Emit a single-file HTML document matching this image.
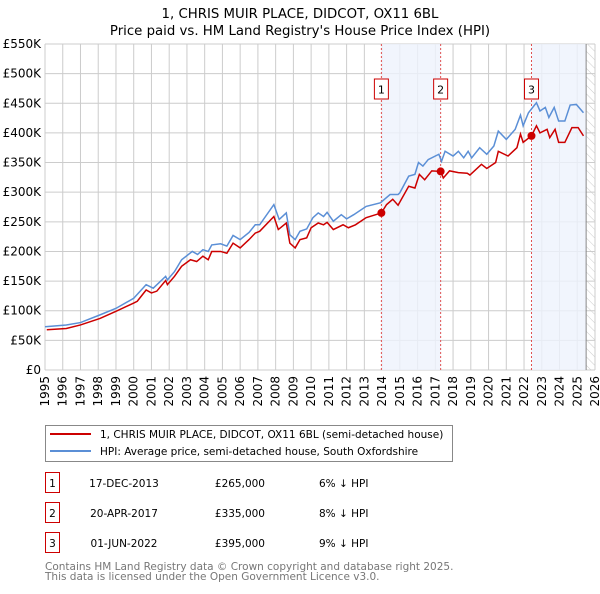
<!DOCTYPE html>
<html><head><meta charset="utf-8"><style>
body{margin:0;background:#fff;width:600px;height:590px;overflow:hidden;font-family:"DejaVu Sans","Liberation Sans",sans-serif}
svg text{font-family:"DejaVu Sans","Liberation Sans",sans-serif}
</style></head><body>
<svg id="chart" width="600" height="590" xmlns="http://www.w3.org/2000/svg">
<defs><pattern id="hatch" width="6" height="6" patternUnits="userSpaceOnUse" patternTransform="rotate(-45)"><line x1="0" y1="0" x2="0" y2="6" stroke="#ccc" stroke-width="1"/></pattern></defs>
<text x="300" y="18" text-anchor="middle" font-size="13.3">1, CHRIS MUIR PLACE, DIDCOT, OX11 6BL</text>
<text x="300" y="35" text-anchor="middle" font-size="13.3">Price paid vs. HM Land Registry's House Price Index (HPI)</text>
<g id="grid"></g><g id="shade"></g><g id="lines"></g><g id="axes"></g>
<g>
<rect x="45.5" y="425.5" width="407" height="36" fill="#fff" stroke="#888"/>
<line x1="50" y1="434" x2="91" y2="434" stroke="#cc0000" stroke-width="2"/>
<text x="100" y="438" font-size="10.5">1, CHRIS MUIR PLACE, DIDCOT, OX11 6BL (semi-detached house)</text>
<line x1="50" y1="451" x2="91" y2="451" stroke="#5b8fd6" stroke-width="2"/>
<text x="100" y="455" font-size="10.5">HPI: Average price, semi-detached house, South Oxfordshire</text>
</g>
<g id="table"></g>
<text x="45" y="570" font-size="10.5" fill="#777">Contains HM Land Registry data © Crown copyright and database right 2025.</text>
<text x="45" y="580" font-size="10.5" fill="#777">This data is licensed under the Open Government Licence v3.0.</text>
</svg>
<script>
const yTicks=[0,50,100,150,200,250,300,350,400,450,500,550];
const xYears=[1995,1996,1997,1998,1999,2000,2001,2002,2003,2004,2005,2006,2007,2008,2009,2010,2011,2012,2013,2014,2015,2016,2017,2018,2019,2020,2021,2022,2023,2024,2025,2026];
const hpiYears=[1995.0,1996.2,1997.0,1998.1,1999.0,2000.0,2000.7,2001.1,2001.8,2001.9,2002.3,2002.7,2003.3,2003.6,2003.9,2004.2,2004.4,2004.9,2005.25,2005.6,2006.0,2006.5,2006.85,2007.1,2007.9,2008.2,2008.6,2008.8,2009.1,2009.37,2009.75,2010.1,2010.4,2010.7,2010.9,2011.25,2011.7,2012.0,2012.4,2013.1,2013.9,2014.45,2014.9,2015.0,2015.5,2015.85,2016.05,2016.3,2016.6,2017.2,2017.35,2017.55,2018.0,2018.3,2018.6,2018.85,2019.05,2019.5,2019.9,2020.3,2020.55,2021.0,2021.5,2021.8,2021.95,2022.25,2022.7,2022.9,2023.2,2023.4,2023.7,2023.95,2024.3,2024.6,2024.95,2025.35];
const hpiValues=[73,76,80,93,104,121,144,138,158,152,166,186,200,195,203,200,211,213,209,227,220,232,245,245,279,254,265,228,220,234,238,257,265,259,266,251,262,255,262,276,282,296,296,299,327,330,350,344,355,364,352,369,361,369,358,369,358,375,364,378,403,389,406,430,412,434,451,437,443,426,443,420,420,447,448,434];
const priceYears=[1995.1,1996.2,1997.0,1998.1,1999.0,2000.0,2000.2,2000.7,2001.0,2001.3,2001.8,2001.9,2002.3,2002.7,2003.2,2003.55,2003.9,2004.2,2004.4,2004.9,2005.25,2005.6,2006.0,2006.5,2006.85,2007.1,2007.9,2008.15,2008.6,2008.8,2009.1,2009.37,2009.75,2010.0,2010.4,2010.7,2010.9,2011.25,2011.8,2012.1,2012.5,2013.1,2013.96,2014.25,2014.6,2014.9,2015.5,2015.85,2016.1,2016.4,2016.8,2017.3,2017.45,2017.8,2018.3,2018.8,2018.95,2019.6,2019.9,2020.4,2020.55,2021.1,2021.6,2021.8,2021.95,2022.42,2022.7,2022.9,2023.3,2023.45,2023.75,2023.95,2024.3,2024.7,2025.05,2025.35];
const priceValues=[68,70,76,87,99,113,116,135,130,133,151,144,158,175,186,183,192,186,200,200,197,214,206,220,231,234,259,237,248,214,206,220,223,240,248,245,249,237,245,240,245,257,265,279,288,278,310,307,330,321,336,335,324,336,333,332,329,347,340,350,369,361,375,398,384,395,412,400,406,392,406,384,384,409,409,395];
const saleLabels=["1","2","3"];
const saleYears=[2013.96,2017.30,2022.42];
const salePrices=[265,335,395];
const saleDates=["17-DEC-2013","20-APR-2017","01-JUN-2022"];
const salePriceText=["£265,000","£335,000","£395,000"];
const saleDiffText=["6% ↓ HPI","8% ↓ HPI","9% ↓ HPI"];
const dataEnd=2025.5;

const NS="http://www.w3.org/2000/svg";
const X0=45,X1=595,Y0=370,Y1=44;
const xs=y=>X0+(y-1995)/(2026-1995)*(X1-X0);
const ys=v=>Y0-v/550*(Y0-Y1);
function mk(parent,tag,attrs,text){const e=document.createElementNS(NS,tag);for(const k in attrs)e.setAttribute(k,attrs[k]);if(text!==undefined)e.textContent=text;document.getElementById(parent).appendChild(e);return e;}

for(let i=0;i<saleYears.length;i+=2){
 const a=saleYears[i],b=i+1<saleYears.length?saleYears[i+1]:dataEnd;
 const r=mk('shade','rect',{x:xs(a),y:Y1,width:xs(b)-xs(a),height:Y0-Y1,fill:'#eef3fc',opacity:0.8});
 
 
}
yTicks.forEach(t=>{
 const l=mk('grid','line',{x1:X0,x2:X1,y1:ys(t),y2:ys(t),stroke:'#ccc','stroke-width':1});
 
 
 const tx=mk('axes','text',{x:X0-4,y:ys(t)+4,'text-anchor':'end','font-size':12},t===0?'£0':'£'+t+'K');
 
 
});
xYears.forEach(yr=>{
 const l=mk('grid','line',{x1:xs(yr),x2:xs(yr),y1:Y1,y2:Y0,stroke:'#ccc','stroke-width':1});
 
 
 const tx=mk('axes','text',{x:0,y:0,'text-anchor':'end','font-size':12,transform:`translate(${xs(yr)+4},${Y0+6}) rotate(-90)`},String(yr));
 
 
});
const h=mk('shade','rect',{x:xs(dataEnd),y:Y1,width:X1-xs(dataEnd),height:Y0-Y1,fill:'url(#hatch)'});


const hl=mk('shade','line',{x1:xs(dataEnd),x2:xs(dataEnd),y1:Y1,y2:Y0,stroke:'#888','stroke-width':1});


saleYears.forEach((yr,i)=>{
 const l=mk('shade','line',{x1:xs(yr),x2:xs(yr),y1:Y1,y2:Y0,stroke:'#e05050','stroke-width':1,'stroke-dasharray':'2,2'});
 
 
 const b=mk('lines','rect',{x:xs(yr)-7,y:79,width:14,height:20,fill:'#fff',stroke:'#cc0000'});
 
 
 const t=mk('lines','text',{x:xs(yr),y:93.5,'text-anchor':'middle','font-size':11},saleLabels[i]);
 
 
});
const hp=mk('lines','polyline',{points:hpiYears.map((y,i)=>xs(y)+','+ys(hpiValues[i])).join(' '),fill:'none',stroke:'#5b8fd6','stroke-width':1.5});


const pp=mk('lines','polyline',{points:priceYears.map((y,i)=>xs(y)+','+ys(priceValues[i])).join(' '),fill:'none',stroke:'#cc0000','stroke-width':1.5});


saleYears.forEach((yr,i)=>{
 const c=mk('lines','circle',{cx:xs(yr),cy:ys(salePrices[i]),r:4,fill:'#cc0000'});
 
 
});
saleYears.forEach((yr,i)=>{
 const cy=483+30*i;
 const b=mk('table','rect',{x:45.5,y:cy-10.5,width:14,height:20,fill:'#fff',stroke:'#cc0000'});
 
 
 const t0=mk('table','text',{x:52.5,y:cy+4,'text-anchor':'middle','font-size':10.5},saleLabels[i]);
 
 
 const t1=mk('table','text',{x:124,y:cy+4,'text-anchor':'middle','font-size':10.5},saleDates[i]);
 
 
 const t2=mk('table','text',{x:265,y:cy+4,'text-anchor':'end','font-size':10.5},salePriceText[i]);
 
 
 const t3=mk('table','text',{x:319,y:cy+4,'font-size':10.5},saleDiffText[i]);
 
 
});
</script>
</body></html>
